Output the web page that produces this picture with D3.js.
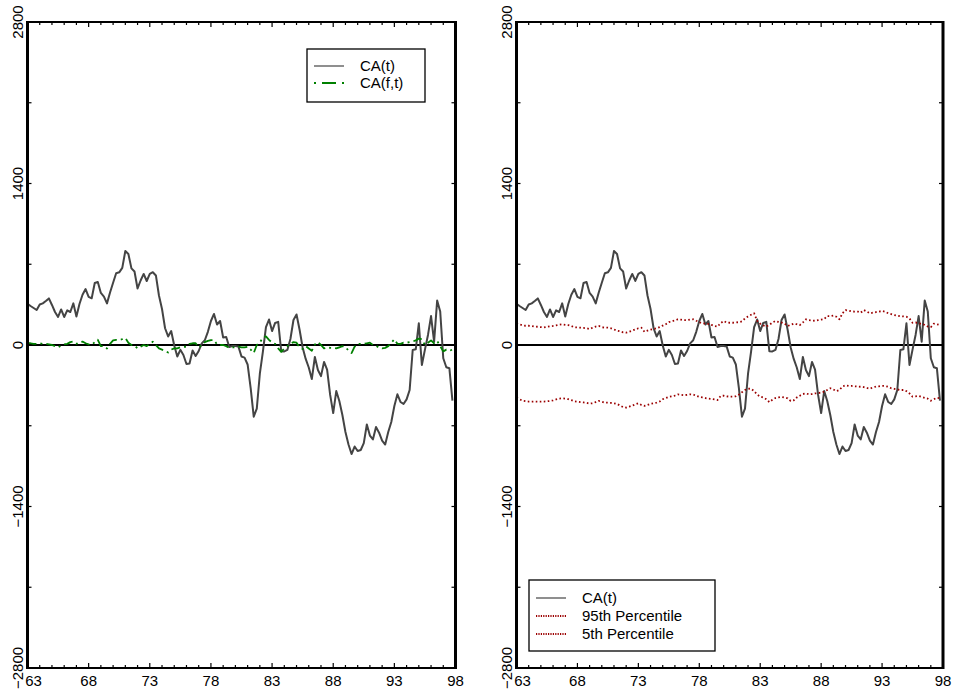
<!DOCTYPE html>
<html><head><meta charset="utf-8">
<script src="https://cdn.jsdelivr.net/npm/d3@7"></script>
<style>body{margin:0;background:#fff} svg{display:block} text{font-family:"Liberation Sans",Arial,sans-serif;fill:#000}</style>
</head><body><svg id="c" width="954" height="691"></svg>
<script>
// quarterly series starting 1963Q1
const startYear = 63;
const caT = [358,338,321,303,351,361,381,404,347,286,243,308,243,300,286,361,247,355,436,485,
418,405,537,546,451,420,361,455,540,622,630,668,815,789,664,637,490,559,616,555,
616,631,603,429,312,145,74,121,-4,-100,-42,-87,-165,-160,-48,-95,-52,14,41,114,
208,269,178,208,65,69,-17,-9,-9,-14,-100,-109,-169,-373,-621,-551,-249,-58,156,221,
121,191,201,-54,-56,-43,52,217,265,132,-22,-121,-195,-295,-104,-217,-270,-147,-213,-433,
-590,-399,-485,-607,-754,-863,-945,-880,-919,-910,-850,-689,-785,-818,-711,-760,-829,-863,-754,-668,
-529,-427,-494,-511,-471,-390,-43,-37,188,-173,-40,87,251,29,385,290,-115,-193,-202,-483];
const caFT = [15,15,10,10,15,10,10,5,0,-10,-20,-5,5,10,25,30,10,25,30,15,
5,0,25,45,-10,-10,-30,10,40,45,45,50,60,20,0,-5,-30,-15,0,-10,
10,29,0,-30,-40,-50,-65,-40,-30,-30,-20,-15,-15,10,15,15,-20,0,25,35,
43,43,5,0,0,-10,-25,-20,-20,-15,-20,-20,-15,-40,-70,0,20,65,75,45,
20,10,-30,-60,-30,-10,10,25,20,-20,-35,-10,-30,-50,5,25,0,-30,-20,-25,
-25,-30,-20,-10,-15,-50,-70,-15,10,10,10,15,20,0,-5,-25,-30,-25,-10,20,
50,10,10,20,20,25,30,40,55,50,0,20,40,15,35,-10,-55,-40,-50,-40];
const pct95 = [188,180,170,167,167,165,160,158,155,153,158,163,165,170,175,179,175,172,165,153,
152,150,148,145,139,150,160,165,155,150,150,145,135,124,118,110,107,115,125,135,
145,150,115,125,133,138,145,155,168,180,198,205,215,223,220,215,215,220,223,210,
198,188,185,182,175,165,160,190,208,195,193,193,195,198,205,230,248,262,275,210,
185,170,160,175,195,208,200,195,185,165,175,185,180,173,195,223,215,212,210,215,
220,225,251,250,255,245,223,275,303,298,292,289,290,280,303,290,275,280,285,290,
295,288,275,268,260,255,250,248,245,230,193,195,190,182,175,160,155,185,180,173];
const pct5 = [-457,-470,-483,-487,-490,-491,-490,-491,-491,-490,-488,-485,-480,-472,-465,-462,-465,-470,-478,-488,
-492,-495,-498,-502,-508,-505,-495,-485,-492,-500,-500,-502,-505,-511,-525,-538,-543,-535,-525,-515,
-505,-520,-528,-520,-510,-505,-500,-490,-470,-460,-450,-445,-438,-428,-432,-435,-432,-428,-430,-440,
-450,-455,-460,-465,-468,-472,-477,-442,-439,-445,-448,-448,-445,-430,-410,-390,-378,-380,-400,-430,
-448,-455,-470,-495,-475,-460,-455,-450,-455,-462,-485,-480,-455,-440,-425,-420,-428,-425,-420,-418,
-412,-405,-390,-375,-385,-400,-390,-360,-350,-355,-355,-358,-360,-362,-365,-372,-378,-368,-360,-358,
-355,-355,-362,-375,-380,-385,-390,-390,-400,-420,-448,-445,-442,-450,-458,-465,-483,-470,-458,-462];
const xTickLabels = [63,68,73,78,83,88,93,98];
const yTickLabels = [2800,1400,0,-1400,-2800];
const legendLeft = ["CA(t)","CA(f,t)"];
const legendRight = ["CA(t)","95th Percentile","5th Percentile"];

const svg = d3.select("#c");
const yTop = 22, yBot = 668;
const y = d3.scaleLinear().domain([-2800,2800]).range([yBot, yTop]);
const panels = [{l:27.5, r:455.5}, {l:516.5, r:943}];
const fmt = v => v < 0 ? "\u2212" + Math.abs(v) : String(v);

function drawPanel(p, series, legend, lg) {
  const x = d3.scaleLinear().domain([63,98]).range([p.l, p.r]);
  const g = svg.append("g");
  g.append("line").attr("x1",p.l).attr("x2",p.r).attr("y1",y(0)).attr("y2",y(0))
    .attr("stroke","#000").attr("stroke-width",2);
  series.forEach(s => {
    const line = d3.line().x((d,i)=>x(startYear + i/4)).y(d=>y(d));
    g.append("path").attr("d", line(s.data)).attr("fill","none")
      .attr("stroke", s.color).attr("stroke-width", s.w)
      .attr("stroke-dasharray", s.dash || null)
      .attr("stroke-linejoin","round");
  });
  g.append("line").attr("x1",p.l).attr("x2",p.r).attr("y1",yTop).attr("y2",yTop).attr("stroke","#000").attr("stroke-width",2);
  g.append("line").attr("x1",p.l).attr("x2",p.r).attr("y1",yBot).attr("y2",yBot).attr("stroke","#000").attr("stroke-width",2);
  g.append("line").attr("x1",p.l).attr("x2",p.l).attr("y1",yTop-1).attr("y2",yBot+1).attr("stroke","#000").attr("stroke-width",3);
  g.append("line").attr("x1",p.r).attr("x2",p.r).attr("y1",yTop-1).attr("y2",yBot+1).attr("stroke","#000").attr("stroke-width",3);
  d3.range(63, 99).forEach(yr => {
    const len = (yr - 63) % 5 === 0 ? 5 : 3;
    g.append("line").attr("x1",x(yr)).attr("x2",x(yr)).attr("y1",yBot).attr("y2",yBot-len).attr("stroke","#000").attr("stroke-width",1.2);
    g.append("line").attr("x1",x(yr)).attr("x2",x(yr)).attr("y1",yTop).attr("y2",yTop+len).attr("stroke","#000").attr("stroke-width",1.2);
  });
  d3.range(-2800, 2801, 700).forEach(v => {
    g.append("line").attr("x1",p.l).attr("x2",p.l+4).attr("y1",y(v)).attr("y2",y(v)).attr("stroke","#000").attr("stroke-width",1.2);
    g.append("line").attr("x1",p.r).attr("x2",p.r-4).attr("y1",y(v)).attr("y2",y(v)).attr("stroke","#000").attr("stroke-width",1.2);
  });
  xTickLabels.forEach(v => {
    const dx = v === 63 ? 6 : 0;
    g.append("text").attr("x", x(v)+dx).attr("y", 686).attr("text-anchor","middle")
      .attr("font-size",15).text(v);
  });
  yTickLabels.forEach(v => {
    g.append("text").attr("transform",`translate(${p.l-5},${y(v)}) rotate(-90)`)
      .attr("text-anchor","middle").attr("font-size",15).text(fmt(v));
  });
  const lgG = g.append("g");
  lgG.append("rect").attr("x",lg.x).attr("y",lg.y).attr("width",lg.w).attr("height",lg.h)
    .attr("fill","#fff").attr("stroke","#000").attr("stroke-width",1.3);
  legend.forEach((name,i) => {
    const s = series[i];
    const yy = lg.y + lg.first + i*lg.step;
    lgG.append("line").attr("x1",lg.x+7).attr("x2",lg.x+37).attr("y1",yy).attr("y2",yy)
      .attr("stroke",s.color).attr("stroke-width", s.lw || s.w).attr("stroke-dasharray", s.ldash || s.dash || null);
    lgG.append("text").attr("x",lg.x+lg.tx).attr("y",yy+5).attr("font-size",15).text(name);
  });
}

drawPanel(panels[0], [
  {data: caT, color:"#444", w:2, lw:1.2},
  {data: caFT, color:"#008000", w:1.8, dash:"9,4,2,4", ldash:"2,6,14,6,2"}
], legendLeft, {x:307, y:49, w:118, h:53, first:17, step:17, tx:53});

drawPanel(panels[1], [
  {data: caT, color:"#444", w:2, lw:1.2},
  {data: pct95, color:"#9b0000", w:1.8, dash:"1.6,2.4", ldash:"1.2,1.2"},
  {data: pct5, color:"#9b0000", w:1.8, dash:"1.6,2.4", ldash:"1.2,1.2"}
], legendRight, {x:529, y:580, w:186, h:71, first:18, step:18, tx:53});
</script></body></html>
